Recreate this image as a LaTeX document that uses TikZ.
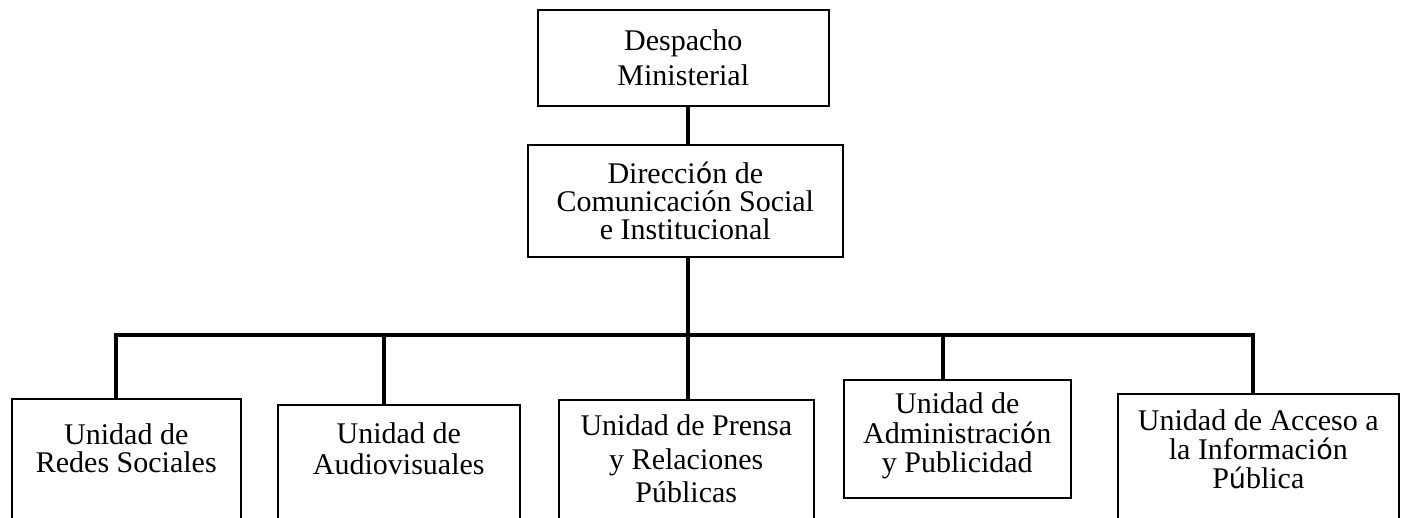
\documentclass[tikz,border=0pt]{standalone}
\usepackage{fontspec}
\setmainfont{Liberation Serif}
\newfontfamily\fbfont[Scale=0.9]{DejaVu Sans}
\newcommand{\fb}[1]{{\fbfont #1}}
\begin{document}
\begin{tikzpicture}[x=1pt,y=-1pt,
  box/.style={draw, line width=1.6pt, inner sep=0pt, anchor=north west},
  txt/.style={align=center, inner sep=0pt, anchor=north, font=\fontsize{30}{#1}\selectfont},
  conn/.style={line width=3.6pt}]
\clip (0,0) rectangle (1406,518);
% boxes
\node[box, minimum width=291pt, minimum height=96pt]  (top) at (537,9) {};
\node[box, minimum width=315pt, minimum height=112pt] (dir) at (527,144) {};
\node[box, minimum width=229pt, minimum height=200pt] (b1) at (11,398) {};
\node[box, minimum width=242pt, minimum height=200pt] (b2) at (277,404) {};
\node[box, minimum width=255pt, minimum height=200pt] (b3) at (558,399) {};
\node[box, minimum width=227pt, minimum height=118pt] (b4) at (843,379) {};
\node[box, minimum width=281pt, minimum height=200pt] (b5) at (1117,393) {};
% texts
\node[txt=35] (ttop) at ([yshift=-20.5pt]top.north) {Despacho\\Ministerial};
\node[txt=28] (tdir) at ([yshift=-17.5pt]dir.north) {Direcci\fb{ó}n de\\Comunicación Social\\e Institucional};
\node[txt=28] (t1) at ([yshift=-25.5pt]b1.north) {Unidad de\\Redes Sociales};
\node[txt=31] (t2) at ([yshift=-18pt]b2.north) {Unidad de\\Audiovisuales};
\node[txt=33.5] (t3) at ([yshift=-15.5pt]b3.north) {Unidad de Prensa\\y Relaciones\\Públicas};
\node[txt=29.5] (t4) at ([yshift=-13.5pt]b4.north) {Unidad de\\Administraci\fb{ó}n\\y Publicidad};
\node[txt=29] (t5) at ([yshift=-16.5pt]b5.north) {Unidad de Acceso a\\la Informaci\fb{ó}n\\P\fb{ú}blica};
% connectors
\coordinate (hub) at (688,335);
\coordinate (d1) at (116,335);
\coordinate (d2) at (384,335);
\coordinate (d4) at (943,335);
\coordinate (d5) at (1253,335);
\draw[conn] (top.south -| hub) -- (dir.north -| hub);
\draw[conn] (dir.south -| hub) -- (hub);
\draw[conn, line join=miter] (d1 |- b1.north) -- (d1) -- (d5) -- (d5 |- b5.north);
\draw[conn] (d2) -- (d2 |- b2.north);
\draw[conn] (hub) -- (hub |- b3.north);
\draw[conn] (d4) -- (d4 |- b4.north);
\end{tikzpicture}
\end{document}
